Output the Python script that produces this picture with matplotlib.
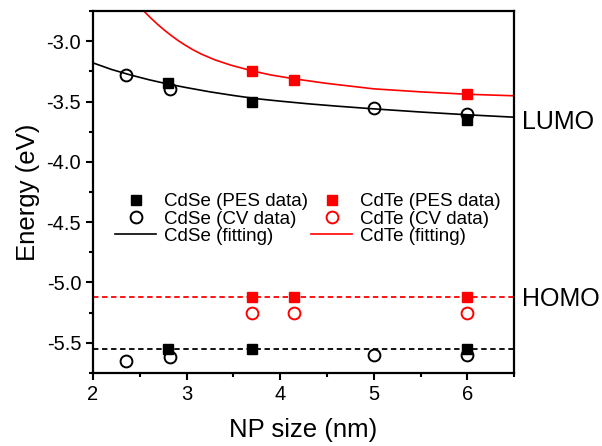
import matplotlib
matplotlib.use("Agg")
import matplotlib.pyplot as plt
from matplotlib.ticker import MultipleLocator

plt.rcParams['font.family'] = ['Liberation Sans', 'DejaVu Sans']

# CdSe data (LUMO and HOMO)
cdse_pes_x = [2.8, 3.7, 6.0]
cdse_pes_lumo = [-3.35, -3.50, -3.65]
cdse_pes_homo = [-5.55, -5.55, -5.55]
cdse_cv_x = [2.35, 2.82, 5.0, 6.0]
cdse_cv_lumo = [-3.28, -3.40, -3.55, -3.60]
cdse_cv_homo = [-5.65, -5.62, -5.60, -5.60]

# CdTe data
cdte_pes_x = [3.7, 4.15, 6.0]
cdte_pes_lumo = [-3.25, -3.32, -3.44]
cdte_pes_homo = [-5.12, -5.12, -5.12]
cdte_cv_x = [3.7, 4.15, 6.0]
cdte_cv_homo = [-5.25, -5.25, -5.25]

# fitting curves
cdse_fit_x = [2.0, 2.2, 2.4, 2.6, 2.8, 3.0, 3.25, 3.5, 3.75, 4.0, 4.3, 4.6, 5.0, 5.5, 6.0, 6.5]
cdse_fit_y = [-3.18, -3.235, -3.28, -3.32, -3.355, -3.385, -3.42, -3.45, -3.477, -3.497,
              -3.519, -3.538, -3.561, -3.587, -3.61, -3.63]
cdte_fit_x = [2.545, 2.62, 2.695, 2.765, 2.837, 2.91, 2.981, 3.07, 3.158, 3.3, 3.47,
              3.7, 3.9, 4.15, 4.5, 5.0, 5.5, 6.0, 6.5]
cdte_fit_y = [-2.752, -2.81, -2.864, -2.91, -2.954, -2.995, -3.031, -3.072, -3.107, -3.154,
              -3.198, -3.246, -3.28, -3.312, -3.35, -3.395, -3.42, -3.44, -3.4525]

# HOMO reference levels
cdse_homo_level = -5.55
cdte_homo_level = -5.12

fig = plt.figure(figsize=(6.02, 4.46), dpi=100)
ax = fig.add_axes([0.1545, 0.1637, 0.854 - 0.1545, 0.9753 - 0.1637])

red = '#ff0000'
ax.axhline(cdte_homo_level, color=red, lw=1.3, dashes=(3, 2))
ax.axhline(cdse_homo_level, color='k', lw=1.3, dashes=(3, 2))

l3, = ax.plot(cdse_fit_x, cdse_fit_y, color='k', lw=1.2)
l6, = ax.plot(cdte_fit_x, cdte_fit_y, color=red, lw=1.2)

sq = dict(marker='s', ms=6.5, linestyle='none')
ci = dict(marker='o', ms=8.5, mew=1.4, mfc='none', linestyle='none')

l1, = ax.plot(cdse_pes_x, cdse_pes_lumo, color='k', **sq)
ax.plot(cdse_pes_x, cdse_pes_homo, color='k', **sq)
l2, = ax.plot(cdse_cv_x, cdse_cv_lumo, mec='k', **ci)
ax.plot(cdse_cv_x, cdse_cv_homo, mec='k', **ci)
l4, = ax.plot(cdte_pes_x, cdte_pes_lumo, color=red, **sq)
ax.plot(cdte_pes_x, cdte_pes_homo, color=red, **sq)
l5, = ax.plot(cdte_cv_x, cdte_cv_homo, mec=red, **ci)

ax.set_xlim(2, 6.5)
ax.set_ylim(-5.75, -2.75)
ax.xaxis.set_major_locator(MultipleLocator(1))
ax.xaxis.set_minor_locator(MultipleLocator(0.5))
ax.yaxis.set_major_locator(MultipleLocator(0.5))
ax.yaxis.set_minor_locator(MultipleLocator(0.25))
ax.yaxis.set_major_formatter(matplotlib.ticker.FormatStrFormatter('%.1f'))
ax.tick_params(which='both', direction='out', top=False, right=False, width=1.5, labelsize=14.5)
ax.tick_params(which='major', length=5)
ax.tick_params(which='minor', length=3)
for s in ax.spines.values():
    s.set_linewidth(1.6)

ax.set_xlabel("NP size (nm)", fontsize=18.5, labelpad=10)
ax.set_ylabel("Energy (eV)", fontsize=18.5, labelpad=5)

ax.text(6.58, -3.667, "LUMO", fontsize=18, va='center', ha='left', clip_on=False)
ax.text(6.58, -5.14, "HOMO", fontsize=18, va='center', ha='left', clip_on=False)

ax.legend([l1, l2, l3, l4, l5, l6],
          ["CdSe (PES data)", "CdSe (CV data)", "CdSe (fitting)",
           "CdTe (PES data)", "CdTe (CV data)", "CdTe (fitting)"],
          ncol=2, frameon=False, fontsize=13.5, loc='upper left',
          bbox_to_anchor=(0.035, 0.517), handlelength=2.2, handletextpad=0.4,
          columnspacing=0.17, labelspacing=0.0, borderaxespad=0)

fig.savefig("out.png", dpi=100)
